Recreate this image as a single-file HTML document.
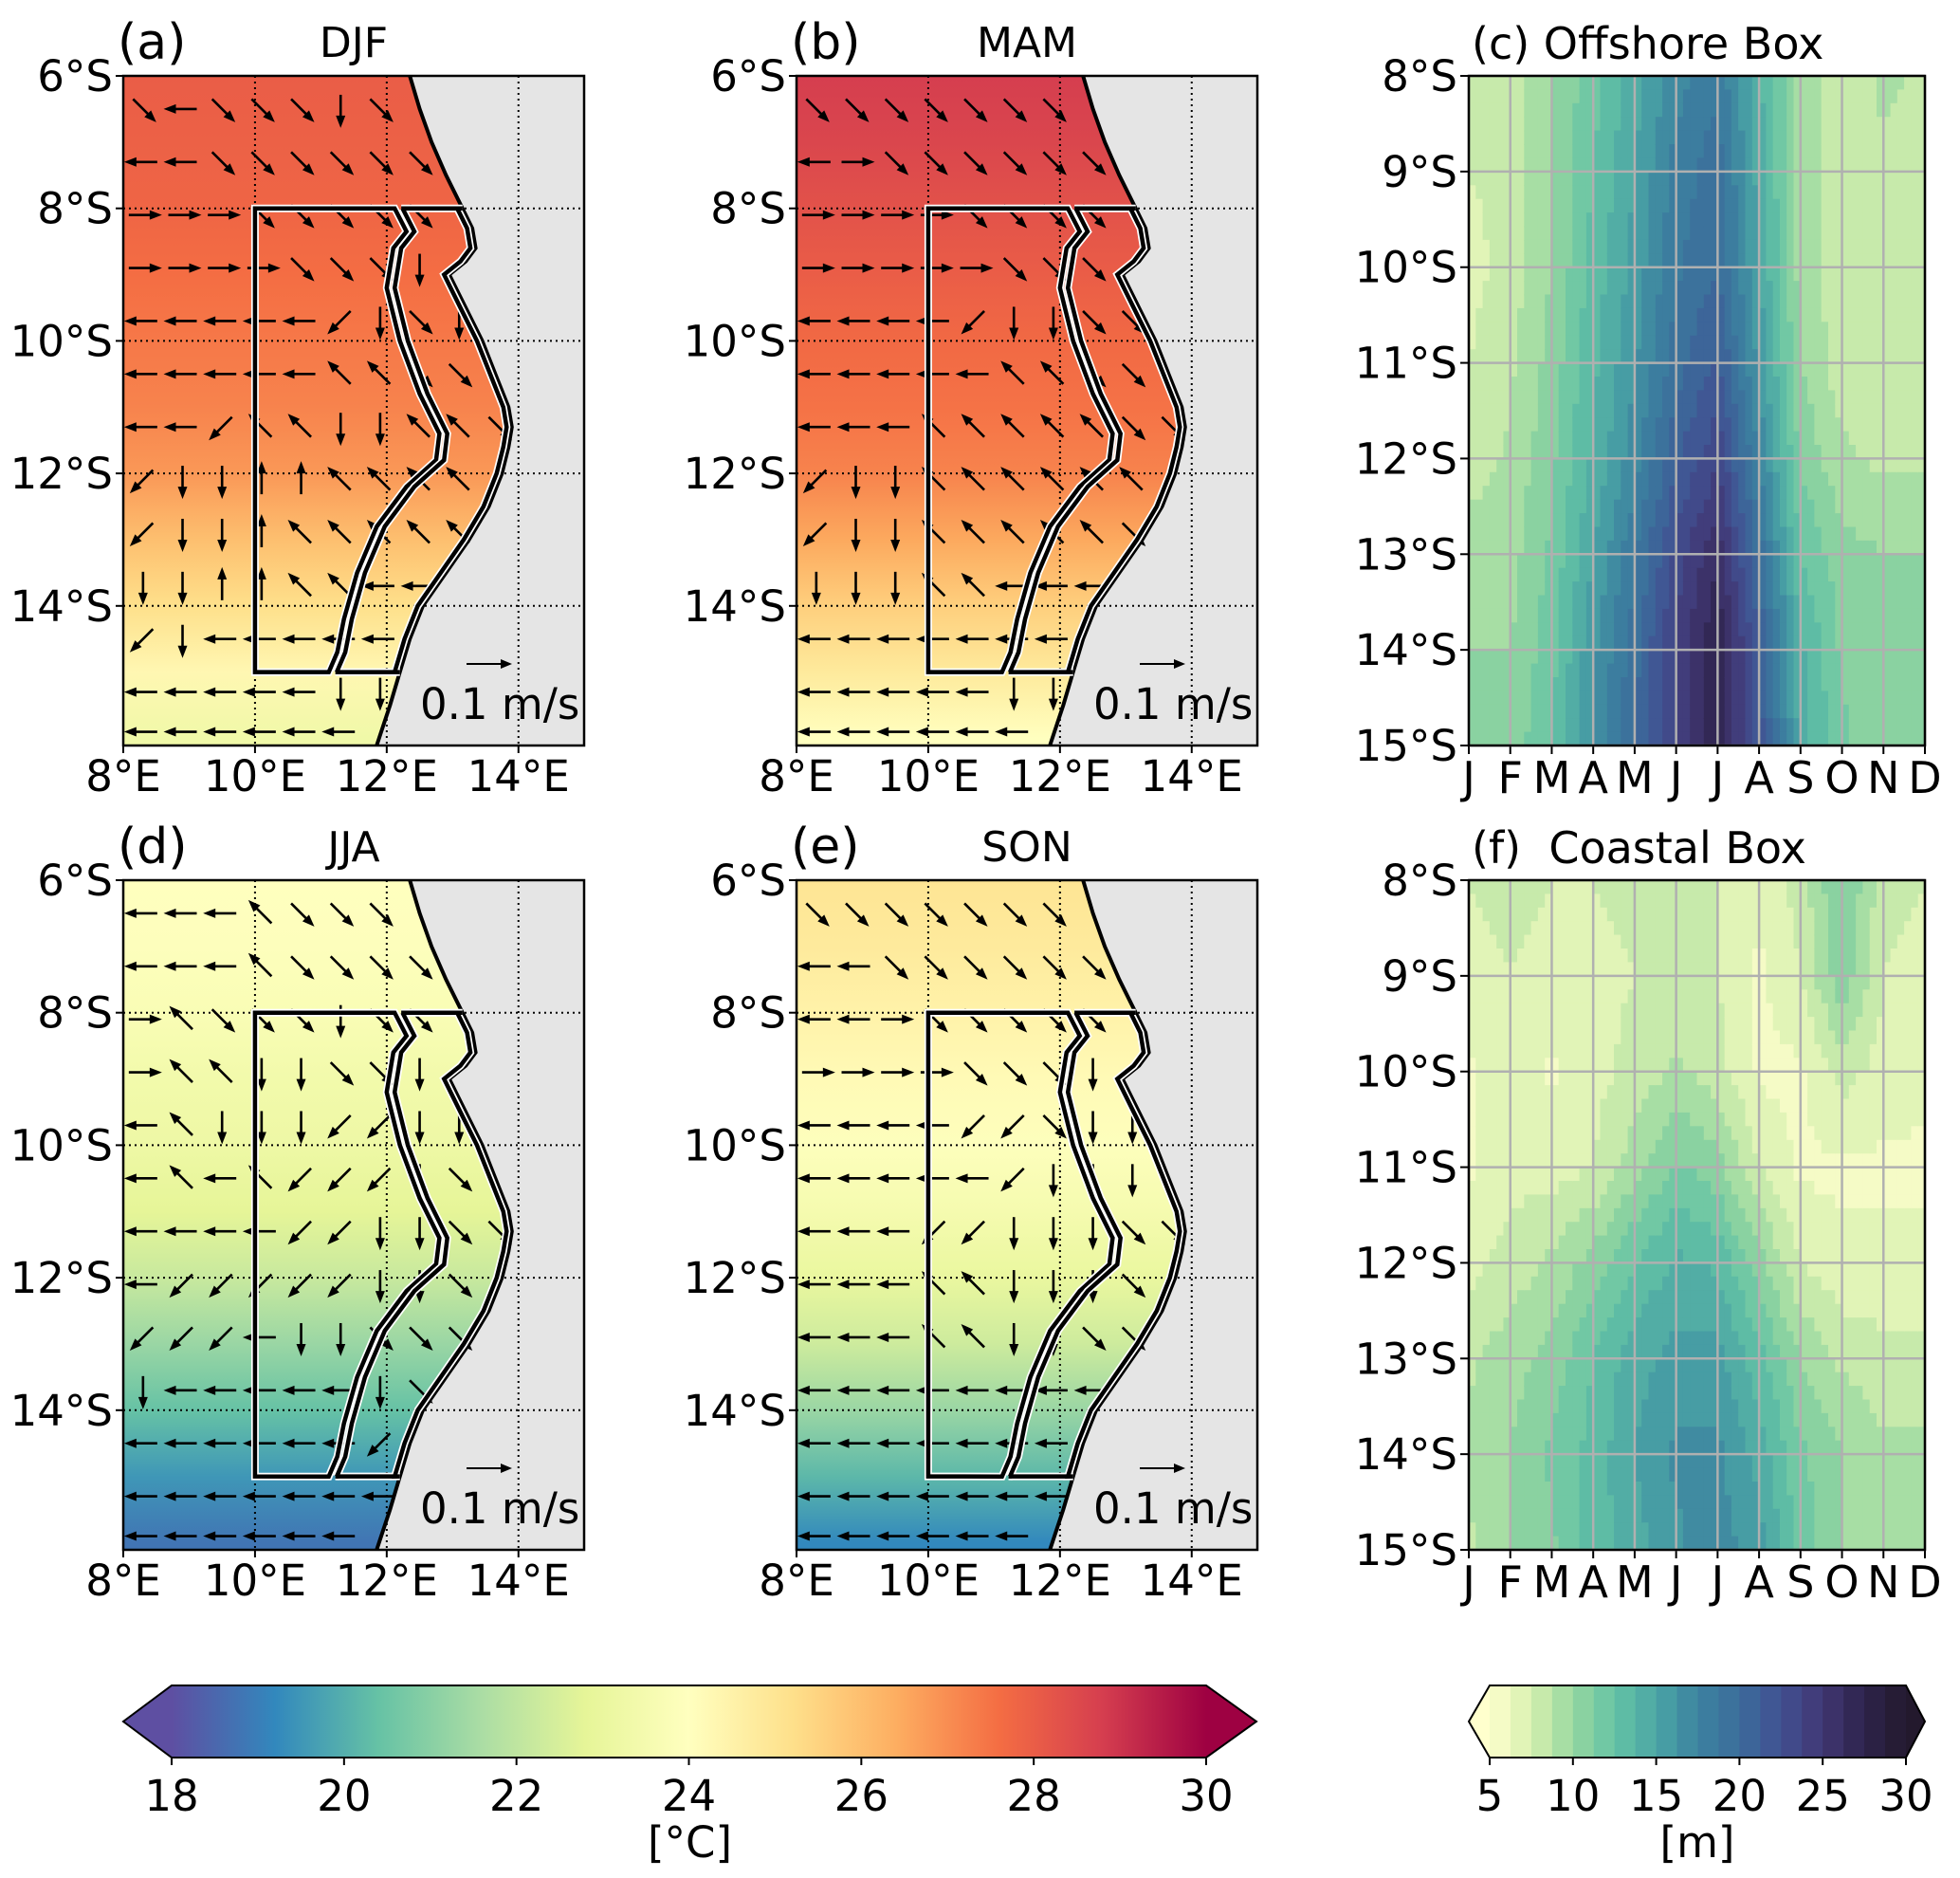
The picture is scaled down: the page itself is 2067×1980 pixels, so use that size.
<!DOCTYPE html>
<html><head><meta charset="utf-8"><style>
html,body{margin:0;padding:0;background:#fff}
svg{display:block;font-family:"DejaVu Sans","Liberation Sans",sans-serif}
</style></head><body>
<svg id="fig" width="2067" height="1980" viewBox="0 0 2067 1980" xmlns="http://www.w3.org/2000/svg">
<g id="root"></g>
</svg>
<script>
// ---------------- data ----------------
const seasons = ["DJF","MAM","JJA","SON"];
const letters = ["(a)","(b)","(d)","(e)"];
const sstLats = [6,7,8,9,10,11,12,13,14,15,16];
const sstDJF = [28.0,27.9,27.8,27.6,27.4,27.2,26.8,26.0,25.2,24.3,23.3];
const sstMAM = [28.8,28.6,28.3,28.0,27.7,27.5,27.2,26.5,25.6,24.8,24.0];
const sstJJA = [24.0,23.9,23.7,23.4,23.2,22.8,22.2,21.3,20.4,19.5,18.8];
const sstSON = [25.0,24.8,24.5,24.2,23.9,23.5,23.0,22.3,21.3,20.2,19.2];
const sstSeries = [sstDJF,sstMAM,sstJJA,sstSON];
const coastLats = [6.0,6.5,7.0,7.5,8.0,8.3,8.6,8.8,9.0,9.5,10.0,10.5,11.0,11.3,11.6,12.0,12.5,13.0,13.5,14.0,14.5,15.0,15.5,16.1];
const coastLons = [12.35,12.5,12.68,12.9,13.15,13.3,13.35,13.2,12.95,13.2,13.45,13.65,13.85,13.9,13.85,13.75,13.55,13.25,12.9,12.55,12.35,12.2,12.05,11.85];
const dividerLats = [8.0,8.35,8.6,9.2,10.0,10.8,11.4,11.8,12.2,12.8,13.5,14.2,14.7,15.0];
const dividerLons = [12.12,12.3,12.1,12.0,12.2,12.5,12.8,12.75,12.3,11.85,11.55,11.35,11.25,11.12];
const arrowLons = [8.3,8.9,9.5,10.1,10.7,11.3,11.9,12.5,13.1,13.7];
const arrowLats = [6.5,7.3,8.1,8.9,9.7,10.5,11.3,12.1,12.9,13.7,14.5,15.3,15.9];
// direction codes: 0=E 1=NE 2=N 3=NW 4=W 5=SW 6=S 7=SE, '.'=tiny
const arrowsDJF = ["7477767777","4477777777","0007777777","0000777666","4444456766","4444433777","4453366337","5662233337","5662333334","6622334447","5644444...","4444466...","4444446..."];
const arrowsMAM = ["7777777770","4077777777","0000777777","0000077777","4444566777","4444433777","4443333377","5663333337","5663333377","6663344447","4444444...","4444466...","4444444..."];
const arrowsJJA = ["4443777770","4443777777","0377767777","0336677666","4366655667","4343555677","4444556677","4555556677","5554667777","6444446777","4444445...","4444444...","4444444..."];
const arrowsSON = ["7777777771","4477777771","4407777777","0000777667","4444557667","4444456667","4445566677","4443366677","4443366777","4444444467","4444444...","4444444...","4444444..."];
const arrowSeries = [arrowsDJF,arrowsMAM,arrowsJJA,arrowsSON];
const lonTicks = [8,10,12,14];
const latTicks = [6,8,10,12,14];
// Hovmoller (m): rows = latitudes, cols = months
const months = ["J","F","M","A","M","J","J","A","S","O","N","D"];
const hovLats = [8,9,10,11,12,13,14,15];
const offshore = [
 [7.5,8.0,10.0,12.0,14.5,17.0,18.5,14.0,9.5,8.0,9.0,8.5],
 [7.5,8.0,10.0,12.5,15.0,18.0,19.5,14.5,9.5,8.0,8.5,8.5],
 [7.0,8.0,10.0,13.0,15.5,18.5,20.0,15.0,9.5,8.0,8.0,8.0],
 [7.5,8.5,10.5,13.5,16.0,19.5,21.5,16.0,10.0,8.0,8.0,8.0],
 [8.0,9.0,11.0,14.0,17.0,21.0,23.5,17.5,11.0,9.0,8.5,8.5],
 [9.5,9.5,11.5,15.0,18.5,23.0,26.0,19.5,12.5,10.5,10.0,10.0],
 [10.0,10.0,12.0,16.0,19.5,24.0,27.5,21.5,14.0,11.0,10.5,10.0],
 [10.0,10.5,12.5,16.5,20.0,24.0,27.0,22.0,14.5,11.5,10.5,10.0]];
const coastal = [
 [7.5,8.0,7.5,7.5,8.0,8.0,7.5,6.5,8.0,11.5,8.0,7.5],
 [7.0,7.5,7.0,7.0,7.5,8.0,7.5,6.0,7.5,11.0,7.5,7.0],
 [6.0,7.0,6.0,7.0,8.0,9.0,8.0,6.0,6.0,8.0,7.0,6.5],
 [6.0,7.0,7.0,7.5,9.5,11.5,10.5,7.5,6.0,6.0,6.0,6.0],
 [7.0,8.0,9.0,10.5,12.5,14.0,13.5,10.5,7.5,6.5,6.5,6.5],
 [8.5,9.5,10.5,12.5,14.5,15.5,15.5,13.0,10.0,8.5,8.0,8.0],
 [9.0,10.0,11.5,13.0,15.0,16.5,16.5,14.5,11.5,10.0,9.0,9.0],
 [8.5,10.0,11.0,13.0,14.5,16.0,17.0,15.5,12.0,10.0,9.0,9.0]];
const tempTicks = [18,20,22,24,26,28,30];
const mTicks = [5,10,15,20,25,30];

// ---------------- helpers ----------------
const NS = "http://www.w3.org/2000/svg";
const root = document.getElementById("root");
function mk(tag, attrs, parent){const e=document.createElementNS(NS,tag);for(const k in attrs)e.setAttribute(k,attrs[k]);(parent||root).appendChild(e);return e;}
function lerp(a,b,t){return a+(b-a)*t;}
const spectral=[[94,79,162],[50,136,189],[102,194,165],[171,221,164],[230,245,152],[255,255,191],[254,224,139],[253,174,97],[244,109,67],[213,62,79],[158,1,66]];
function tempColor(t){let f=(t-18)/12*10;f=Math.max(0,Math.min(10,f));const i=Math.min(9,Math.floor(f)),r=f-i;const a=spectral[i],b=spectral[i+1];return `rgb(${Math.round(lerp(a[0],b[0],r))},${Math.round(lerp(a[1],b[1],r))},${Math.round(lerp(a[2],b[2],r))})`;}
const crest=[[255,255,205],[215,240,175],[150,215,160],[100,195,165],[75,165,165],[60,130,160],[60,108,155],[65,80,145],[65,55,115],[45,35,75],[35,25,45]];
function mColor(v){let f=(v-5)/2.5;f=Math.max(0,Math.min(10,f));const i=Math.min(9,Math.floor(f)),r=f-i;const a=crest[i],b=crest[i+1];return `rgb(${Math.round(lerp(a[0],b[0],r))},${Math.round(lerp(a[1],b[1],r))},${Math.round(lerp(a[2],b[2],r))})`;}
const FONT=45;

// ---------------- maps ----------------
const mapPos=[[130,80],[840,80],[130,928],[840,928]];
const MW=486, MH=706;
function drawMap(k){
  const [x0,y0]=mapPos[k];
  const X=lon=>x0+(lon-8)*69.46, Y=lat=>y0+(lat-6)*69.85;
  const g=mk("g",{});
  
  
  const cid="clip"+k;
  const cp=mk("clipPath",{id:cid},g);mk("rect",{x:x0,y:y0,width:MW,height:MH},cp);
  const gid="sst"+k;
  const lg=mk("linearGradient",{id:gid,x1:0,y1:0,x2:0,y2:1,gradientUnits:"objectBoundingBox"},g);
  sstLats.forEach((la,i)=>{mk("stop",{offset:((Y(la)-y0)/MH).toFixed(4),"stop-color":tempColor(sstSeries[k][i])},lg);});
  const sea=mk("rect",{x:x0,y:y0,width:MW,height:MH,fill:`url(#${gid})`,"clip-path":`url(#${cid})`},g);
  
  
  let d=`M${X(coastLons[0])},${y0}`;
  coastLats.forEach((la,i)=>{d+=` L${X(coastLons[i]).toFixed(1)},${Y(la).toFixed(1)}`;});
  d+=` L${x0+MW},${y0+MH} L${x0+MW},${y0} Z`;
  const land=mk("path",{d,fill:"#e5e5e5","clip-path":`url(#${cid})`},g);
  
  
  let cd="";coastLats.forEach((la,i)=>{cd+=(i?" L":"M")+X(coastLons[i]).toFixed(1)+","+Y(la).toFixed(1);});
  const coast=mk("path",{d:cd,fill:"none",stroke:"#000","stroke-width":4,"clip-path":`url(#${cid})`},g);
  
  
  lonTicks.slice(1).forEach(lo=>{const l=mk("line",{x1:X(lo),x2:X(lo),y1:y0,y2:y0+MH,stroke:"#000","stroke-width":2,"stroke-dasharray":"2,4"},g);});
  latTicks.slice(1).forEach(la=>{const l=mk("line",{x1:x0,x2:x0+MW,y1:Y(la),y2:Y(la),stroke:"#000","stroke-width":2,"stroke-dasharray":"2,4"},g);});
  const ag=mk("g",{"clip-path":`url(#${cid})`},g);
  
  
  const dirs=[[1,0],[0.7,-0.7],[0,-1],[-0.7,-0.7],[-1,0],[-0.7,0.7],[0,1],[0.7,0.7]];
  arrowSeries[k].forEach((row,ri)=>{
    for(let ci=0;ci<row.length;ci++){
      const c=row[ci]; if(c===".")continue;
      const lo=arrowLons[ci], la=arrowLats[ri];
      let cl=coastLons[coastLons.length-1];
      for(let j=0;j<coastLats.length-1;j++){if(la>=coastLats[j]&&la<=coastLats[j+1]){cl=lerp(coastLons[j],coastLons[j+1],(la-coastLats[j])/(coastLats[j+1]-coastLats[j]));break;}}
      if(lo>cl-0.15)continue;
      const [dx,dy]=dirs[+c];const L=30;
      const cx=X(lo),cy=Y(la);
      const x1=cx-dx*L/2,y1=cy-dy*L/2,x2=cx+dx*L/2,y2=cy+dy*L/2;
      const a=mk("g",{},ag);
      
      
      mk("line",{x1,y1,x2,y2,stroke:"#000","stroke-width":2.6},a);
      const px=-dy,py=dx;
      mk("polygon",{points:`${x2+dx*5},${y2+dy*5} ${x2-dx*8+px*5},${y2-dy*8+py*5} ${x2-dx*8-px*5},${y2-dy*8-py*5}`,fill:"#000"},a);
    }
  });
  let od=`M${X(10)},${Y(8)} L${X(dividerLons[0])},${Y(8)}`;
  dividerLats.forEach((la,i)=>{od+=` L${X(dividerLons[i]).toFixed(1)},${Y(la).toFixed(1)}`;});
  od+=` L${X(10)},${Y(15)} Z`;
  let cdd=`M${X(dividerLons[0]+0.1)},${Y(8)} L${X(13.15)},${Y(8)}`;
  for(let j=4;j<coastLats.length&&coastLats[j]<=15;j++)cdd+=` L${X(coastLons[j]-0.08).toFixed(1)},${Y(coastLats[j]).toFixed(1)}`;
  cdd+=` L${X(12.2)},${Y(15)} L${X(dividerLons[dividerLons.length-1]+0.1)},${Y(15)}`;
  for(let j=dividerLats.length-1;j>=0;j--)cdd+=` L${X(dividerLons[j]+0.12).toFixed(1)},${Y(dividerLats[j]).toFixed(1)}`;
  [od,cdd].forEach((p,i)=>{
    mk("path",{d:p,fill:"none",stroke:"#fff","stroke-width":8},g);
    const b=mk("path",{d:p,fill:"none",stroke:"#000","stroke-width":4.5},g);
    
    
  });
  const rk=mk("g",{},g);
  
  
  mk("line",{x1:x0+362,y1:y0+620,x2:x0+400,y2:y0+620,stroke:"#000","stroke-width":2},rk);
  mk("polygon",{points:`${x0+410},${y0+620} ${x0+398},${y0+615} ${x0+398},${y0+625}`,fill:"#000"},rk);
  const rt=mk("text",{x:x0+313,y:y0+678,"font-size":FONT},rk);rt.textContent="0.1 m/s";
  const fr=mk("rect",{x:x0,y:y0,width:MW,height:MH,fill:"none",stroke:"#000","stroke-width":2.5},g);
  
  
  lonTicks.forEach(lo=>{
    mk("line",{x1:X(lo),x2:X(lo),y1:y0+MH,y2:y0+MH+8,stroke:"#000","stroke-width":2},g);
    const t=mk("text",{x:X(lo),y:y0+MH+48,"font-size":FONT,"text-anchor":"middle"},g);
    
    
    t.textContent=lo+"°E";
  });
  latTicks.forEach(la=>{
    mk("line",{x1:x0-8,x2:x0,y1:Y(la),y2:Y(la),stroke:"#000","stroke-width":2},g);
    const t=mk("text",{x:x0-11,y:Y(la)+16,"font-size":FONT,"text-anchor":"end"},g);
    
    
    t.textContent=la+"°S";
  });
  const pl=mk("text",{x:x0-6,y:y0-18,"font-size":52},g);
  
  
  pl.textContent=letters[k];
  const ti=mk("text",{x:x0+243,y:y0-20,"font-size":44,"text-anchor":"middle"},g);
  
  
  ti.textContent=seasons[k];
}
[0,1,2,3].forEach(drawMap);

// ---------------- Hovmoller ----------------
function drawHov(data,y0,label,title,nm){
  const x0=1549,W=481,H=706;
  const X=i=>x0+i*W/11, Y=la=>y0+(la-8)*H/7;
  const g=mk("g",{});
  
  
  const nx=66,ny=49;
  for(let a=0;a<nx;a++)for(let b=0;b<ny;b++){
    const fx=(a+0.5)/nx*11, fy=(b+0.5)/ny*7;
    const i=Math.min(10,Math.floor(fx)),j=Math.min(6,Math.floor(fy));const rx=fx-i,ry=fy-j;
    const v=lerp(lerp(data[j][i],data[j][i+1],rx),lerp(data[j+1][i],data[j+1][i+1],rx),ry);
    const q=5+Math.floor((v-5)/1.25)*1.25+0.6;
    const c=mk("rect",{x:(x0+a*W/nx).toFixed(1),y:(y0+b*H/ny).toFixed(1),width:(W/nx+0.8).toFixed(1),height:(H/ny+0.8).toFixed(1),fill:mColor(q)},g);
    
    
  }
  months.forEach((m,i)=>{
    mk("line",{x1:X(i),x2:X(i),y1:y0,y2:y0+H,stroke:"#b0b0b0","stroke-width":2.5},g);
    mk("line",{x1:X(i),x2:X(i),y1:y0+H,y2:y0+H+9,stroke:"#000","stroke-width":2},g);
    const t=mk("text",{x:X(i),y:y0+H+50,"font-size":46,"text-anchor":"middle"},g);
    
    
    t.textContent=m;
  });
  hovLats.forEach(la=>{
    mk("line",{x1:x0,x2:x0+W,y1:Y(la),y2:Y(la),stroke:"#b0b0b0","stroke-width":2.5},g);
    mk("line",{x1:x0-9,x2:x0,y1:Y(la),y2:Y(la),stroke:"#000","stroke-width":2},g);
    const t=mk("text",{x:x0-12,y:Y(la)+16,"font-size":FONT,"text-anchor":"end"},g);
    
    
    t.textContent=la+"°S";
  });
  mk("rect",{x:x0,y:y0,width:W,height:H,fill:"none",stroke:"#000","stroke-width":2.5},g);
  const tl=mk("text",{x:x0+3,y:y0-18,"font-size":46},g);
  
  
  tl.textContent=label+"\u00a0"+title;
}
drawHov(offshore,80,"(c)","Offshore Box","hovmoller-offshore");
drawHov(coastal,928,"(f)","\u00a0Coastal Box","hovmoller-coastal");

// ---------------- colorbars ----------------
(function(){
  const x0=181,x1=1272,y0=1777,y1=1853,tipL=130,tipR=1325;
  const X=t=>x0+(t-18)/12*(x1-x0);
  const g=mk("g",{});
  
  
  const lg=mk("linearGradient",{id:"cbT",x1:0,y1:0,x2:1,y2:0},g);
  for(let s=0;s<=10;s++)mk("stop",{offset:s/10,"stop-color":tempColor(18+s*1.2)},lg);
  mk("rect",{x:x0,y:y0,width:x1-x0,height:y1-y0,fill:"url(#cbT)"},g);
  mk("polygon",{points:`${x0},${y0} ${tipL},${(y0+y1)/2} ${x0},${y1}`,fill:tempColor(18)},g);
  mk("polygon",{points:`${x1},${y0} ${tipR},${(y0+y1)/2} ${x1},${y1}`,fill:tempColor(30)},g);
  mk("polygon",{points:`${x0},${y0} ${x1},${y0} ${tipR},${(y0+y1)/2} ${x1},${y1} ${x0},${y1} ${tipL},${(y0+y1)/2}`,fill:"none",stroke:"#000","stroke-width":2},g);
  tempTicks.forEach(t=>{
    mk("line",{x1:X(t),x2:X(t),y1:y1,y2:y1+8,stroke:"#000","stroke-width":2},g);
    const tx=mk("text",{x:X(t),y:y1+56,"font-size":45,"text-anchor":"middle"},g);
    
    
    tx.textContent=t;
  });
  const lb=mk("text",{x:(tipL+tipR)/2,y:1958,"font-size":45,"text-anchor":"middle"},g);
  
  
  lb.textContent="[°C]";
})();
(function(){
  const x0=1571,x1=2010,y0=1777,y1=1853,tipL=1549,tipR=2030;
  const X=v=>x0+(v-5)/25*(x1-x0);
  const g=mk("g",{});
  
  
  for(let s=0;s<20;s++){
    const b=mk("rect",{x:X(5+s*1.25),y:y0,width:(x1-x0)/20+0.6,height:y1-y0,fill:mColor(5+s*1.25+0.6)},g);
    
    
  }
  mk("polygon",{points:`${x0},${y0} ${tipL},${(y0+y1)/2} ${x0},${y1}`,fill:mColor(5)},g);
  mk("polygon",{points:`${x1},${y0} ${tipR},${(y0+y1)/2} ${x1},${y1}`,fill:mColor(30)},g);
  mk("polygon",{points:`${x0},${y0} ${x1},${y0} ${tipR},${(y0+y1)/2} ${x1},${y1} ${x0},${y1} ${tipL},${(y0+y1)/2}`,fill:"none",stroke:"#000","stroke-width":2},g);
  mTicks.forEach(v=>{
    mk("line",{x1:X(v),x2:X(v),y1:y1,y2:y1+8,stroke:"#000","stroke-width":2},g);
    const tx=mk("text",{x:X(v),y:y1+56,"font-size":45,"text-anchor":"middle"},g);
    
    
    tx.textContent=v;
  });
  const lb=mk("text",{x:1790,y:1958,"font-size":45,"text-anchor":"middle"},g);
  
  
  lb.textContent="[m]";
})();
</script>
</body></html>
